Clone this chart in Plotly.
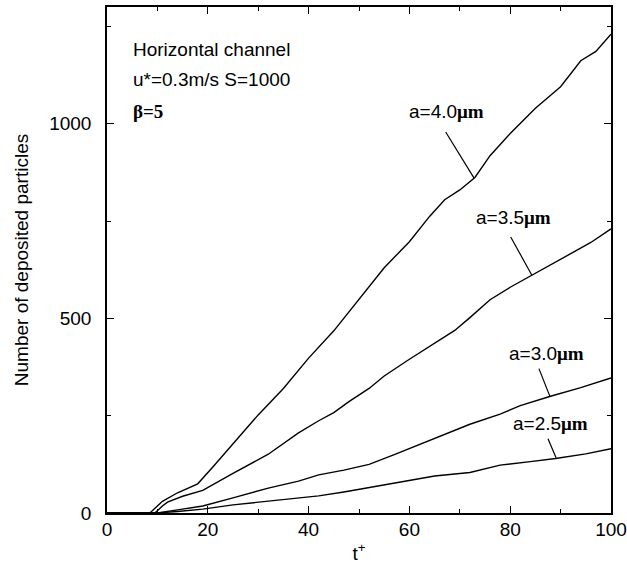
import plotly.graph_objects as go

# ---- data ----
t_40 = [0, 8.5, 10, 11, 14, 18, 21, 25, 30, 35, 40, 45, 50, 55, 60, 64, 67, 70, 73, 76, 80, 85, 90, 94, 97, 100]
n_40 = [0, 0, 18, 30, 52, 75, 118, 178, 252, 320, 398, 468, 550, 630, 697, 762, 805, 830, 862, 918, 975, 1040, 1095, 1162, 1186, 1230]

t_35 = [0, 9.5, 11, 12, 15, 19, 25, 32, 38, 42, 45, 48, 52, 55, 60, 65, 69, 72, 76, 80, 84.5, 88, 92, 96, 100]
n_35 = [0, 0, 18, 28, 43, 58, 102, 151, 206, 237, 258, 286, 320, 352, 395, 435, 469, 502, 548, 580, 612, 638, 667, 695, 730]

t_30 = [0, 10, 14, 19, 25, 32, 38, 42, 47, 52, 57, 62, 65, 72, 78, 82, 88, 94, 100]
n_30 = [0, 0, 8, 18, 39, 64, 82, 98, 110, 125, 150, 176, 190, 228, 254, 276, 300, 322, 347]

t_25 = [0, 10, 14, 19, 25, 32, 38.6, 42, 47, 52, 58, 62, 65, 72, 78, 84, 89, 95, 100]
n_25 = [0, 0, 4, 10, 21, 30, 39, 44, 54, 65, 80, 87, 95, 104, 123, 132, 140, 152, 165]

series = [(t_40, n_40), (t_35, n_35), (t_30, n_30), (t_25, n_25)]

# curve labels: text, label centre (t, N), leader line start and end (t, N)
label_texts = ["a=4.0", "a=3.5", "a=3.0", "a=2.5"]
label_pos = [(67.4, 1031), (80.7, 758), (87.3, 410), (87.9, 229)]
leader_from = [(67.2, 979), (80.1, 709), (85.7, 371), (87.5, 191)]
leader_to = [(72.8, 861), (84.3, 611), (87.9, 299), (89.1, 142)]

info_lines = ["Horizontal channel", "u*=0.3m/s S=1000", "β=5"]
info_y = [1191, 1113, 1031]
info_x = 4.8

x_ticks = [0, 20, 40, 60, 80, 100]
y_ticks = [0, 500, 1000]

SANS = "Liberation Sans, Arial, sans-serif"

fig = go.Figure()
for tx, ny in series:
    fig.add_trace(go.Scatter(x=tx, y=ny, mode="lines",
                             line=dict(color="black", width=1.4),
                             showlegend=False, hoverinfo="skip"))

for txt, (lx, ly) in zip(label_texts, label_pos):
    fig.add_annotation(x=lx, y=ly, xref="x", yref="y", showarrow=False,
                       text=txt + '<span style="font-family:Liberation Serif;font-weight:bold">μm</span>',
                       font=dict(family=SANS, size=19, color="black"))

for (x0, y0), (x1, y1) in zip(leader_from, leader_to):
    fig.add_shape(type="line", x0=x0, y0=y0, x1=x1, y1=y1, xref="x", yref="y",
                  line=dict(color="black", width=1.2))

for txt, yy in zip(info_lines, info_y):
    if txt.startswith("β"):
        txt = '<span style="font-family:Liberation Serif;font-weight:bold">' + txt + '</span>'
    fig.add_annotation(x=info_x, y=yy, xref="x", yref="y", showarrow=False,
                       xanchor="left", text=txt,
                       font=dict(family=SANS, size=19, color="black"))

axis_common = dict(showgrid=False, zeroline=False, showline=True, linecolor="black",
                   linewidth=1.5, mirror="allticks", ticks="inside", ticklen=7,
                   tickwidth=1.2, tickcolor="black", automargin=False,
                   tickfont=dict(family=SANS, size=19, color="black"))

fig.update_xaxes(range=[0, 100], tickvals=x_ticks, ticktext=[str(v) for v in x_ticks],
                 minor=dict(dtick=10, tick0=0, ticks="inside", ticklen=4, tickcolor="black", tickwidth=1.2),
                 title=dict(text="t<sup>+</sup>", font=dict(family=SANS, size=19, color="black"), standoff=12),
                 ticklabelstandoff=-2,
                 **axis_common)
fig.update_yaxes(range=[0, 1300], tickvals=y_ticks, ticktext=[str(v) for v in y_ticks],
                 minor=dict(dtick=250, tick0=0, ticks="inside", ticklen=4, tickcolor="black", tickwidth=1.2),
                 title=dict(text="Number of deposited particles", font=dict(family=SANS, size=19, color="black"), standoff=16),
                 ticklabelstandoff=10,
                 **axis_common)

fig.update_layout(width=627, height=564, plot_bgcolor="white", paper_bgcolor="white",
                  margin=dict(l=107, r=16, t=7, b=51))

# remove the default page margin so the figure fills the window exactly
fig.write_html("out.html", config={"displayModeBar": False},
               post_script="document.body.style.margin='0';document.body.style.overflow='hidden';")
